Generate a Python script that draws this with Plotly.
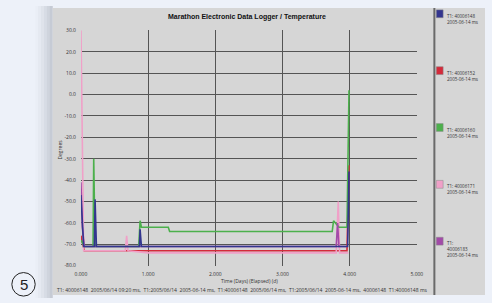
import plotly.graph_objects as go

# ---------------- data ----------------
title_text = "Marathon Electronic Data Logger / Temperature"
y_title = "Degrees"
x_title = "Time (Days) (Elapsed) (d)"
footer_text = ("T1: 40006148  2005/06/14 09:20 ms,  T1:2005/06/14  2005-06-14 ms,  "
               "T1:40006148  2005/06/14 ms,  T1:2005/06/14  2005-06-14 ms,  40006148  T1:40006148 ms")

x_ticks = [0, 1, 2, 3, 4, 5]
x_tick_labels = ["0.000", "1.000", "2.000", "3.000", "4.000", "5.000"]
y_ticks = [30, 20, 10, 0, -10, -20, -30, -40, -50, -60, -70, -80]
y_tick_labels = ["30.0", "20.0", "10.0", "0.0", "-10.0", "-20.0", "-30.0",
                 "-40.0", "-50.0", "-60.0", "-70.0", "-80.0"]

series_names = [
    "T1: 40006148<br>2005-06-14 ms",
    "T1: 40006152<br>2005-06-14 ms",
    "T1: 40006160<br>2005-06-14 ms",
    "T1: 40006171<br>2005-06-14 ms",
    "T1:<br>40006183<br>2005-06-14 ms",
]
series_colors = ["#33358f", "#d42a3a", "#4cb04c", "#f0a0c8", "#a24aa8"]

# blue
blue_t = [0.0, 0.04, 0.20, 0.21, 0.23, 0.26, 0.87, 0.88, 0.90, 2.0, 3.0, 3.97, 3.99]
blue_v = [-47, -71, -71, -49, -71, -71, -71, -63, -71, -71, -71, -71, -36]
# red
red_t = [0.0, 0.05, 1.0, 2.0, 3.0, 3.96, 3.99]
red_v = [-66, -73, -73, -73, -73, -73, -33]
# green
green_t = [0.0, 0.05, 0.18, 0.19, 0.21, 0.25, 0.86, 0.88, 0.90, 1.30, 1.32,
           3.74, 3.76, 3.84, 3.96, 3.99]
green_v = [-68, -71, -71, -30, -71, -71, -71, -59, -62, -62, -64,
           -64, -59, -62, -62, 2]
# pink
pink_t = [0.0, 0.01, 0.04, 0.66, 0.68, 0.70, 1.0, 2.0, 3.0, 3.80, 3.83, 3.85, 3.98]
pink_v = [31, 0, -73, -73, -66, -73, -74, -74, -74, -74, -50, -74, -74]
# purple
purple_t = [0.0, 0.02, 0.05, 1.0, 2.0, 3.0, 3.80, 3.82, 3.84, 3.95]
purple_v = [-41, -62, -71, -71, -71, -71, -71, -60, -71, -71]

series_t = [blue_t, red_t, green_t, pink_t, purple_t]
series_v = [blue_v, red_v, green_v, pink_v, purple_v]

# ---------------- figure ----------------
W, H = 492, 303
def px(x):
    return x / W
def py(y):
    return 1 - y / H

fig = go.Figure()

draw_order = [1, 3, 2, 4, 0]
for i in draw_order:
    fig.add_trace(go.Scatter(x=series_t[i], y=series_v[i], mode="lines",
                             line=dict(color=series_colors[i], width=1.6),
                             name=series_names[i], showlegend=False))

shapes = []
# soft shadow on the left of the panel
for k, op in enumerate([0.02, 0.03, 0.04, 0.05, 0.06, 0.07]):
    shapes.append(dict(type="rect", xref="paper", yref="paper",
                       x0=px(30 + k * 3), x1=px(48), y0=py(301), y1=py(3),
                       fillcolor="rgba(80,90,110,%s)" % op, line_width=0, layer="below"))
# gray panel
shapes.append(dict(type="rect", xref="paper", yref="paper",
                   x0=px(48), x1=1, y0=py(298), y1=py(5),
                   fillcolor="#d6d6d6", line_width=0, layer="below"))
# legend divider
shapes.append(dict(type="line", xref="paper", yref="paper",
                   x0=px(440), x1=px(440), y0=py(298), y1=py(5),
                   line=dict(color="#6a6a6a", width=2)))
# circled number
shapes.append(dict(type="circle", xref="paper", yref="paper",
                   x0=px(6), x1=px(30), y0=py(299), y1=py(275),
                   line=dict(color="#222222", width=1)))

annotations = [
    dict(text="<b>" + title_text + "</b>", x=px(248), y=py(14), xref="paper", yref="paper",
         showarrow=False, font=dict(size=7, color="#111111", family="Liberation Sans"),
         xanchor="center", yanchor="middle"),
    dict(text=y_title, x=px(55), y=py(150), xref="paper", yref="paper", textangle=-90,
         showarrow=False, font=dict(size=5, color="#333333"), xanchor="center", yanchor="middle"),
    dict(text=x_title, x=px(250), y=py(284), xref="paper", yref="paper",
         showarrow=False, font=dict(size=5, color="#333333"), xanchor="center", yanchor="middle"),
    dict(text=footer_text, x=px(50), y=py(293), xref="paper", yref="paper",
         showarrow=False, font=dict(size=5, color="#333333"), xanchor="left", yanchor="middle"),
    dict(text="5", x=px(18), y=py(287), xref="paper", yref="paper",
         showarrow=False, font=dict(size=15, color="#222222", family="Liberation Sans"),
         xanchor="center", yanchor="middle"),
]

legend_y = [11, 69, 127, 185, 243]
for i, (name, col) in enumerate(zip(series_names, series_colors)):
    yc = legend_y[i]
    shapes.append(dict(type="rect", xref="paper", yref="paper",
                       x0=px(442), x1=px(449), y0=py(yc + 4), y1=py(yc - 4),
                       fillcolor=col, line=dict(color="#888888", width=0.5)))
    annotations.append(dict(text=name, x=px(451), y=py(yc - 3), xref="paper", yref="paper",
                            showarrow=False, align="left", xanchor="left", yanchor="top",
                            font=dict(size=4.5, color="#333333")))

fig.update_layout(
    width=W, height=H,
    margin=dict(l=0, r=0, t=0, b=0),
    paper_bgcolor="#edf1f9",
    plot_bgcolor="#d6d6d6",
    shapes=shapes,
    annotations=annotations,
    showlegend=False,
    xaxis=dict(domain=[px(77), px(422)], range=[0, 5], tickvals=x_ticks,
               ticktext=x_tick_labels, showgrid=True, gridcolor="#555555", gridwidth=1.4,
               zeroline=False, showline=False, ticks="",
               tickfont=dict(size=5, color="#333333"), ticklabelstandoff=4),
    yaxis=dict(domain=[py(268), py(28)], range=[-80, 30], tickvals=y_ticks,
               ticktext=y_tick_labels, showgrid=True, gridcolor="#555555", gridwidth=1.4,
               zeroline=False, showline=False, ticks="",
               tickfont=dict(size=5, color="#333333"), ticklabelstandoff=4),
)

fig.write_html("out.html", config={"displayModeBar": False},
               post_script="document.body.style.margin='0';")
